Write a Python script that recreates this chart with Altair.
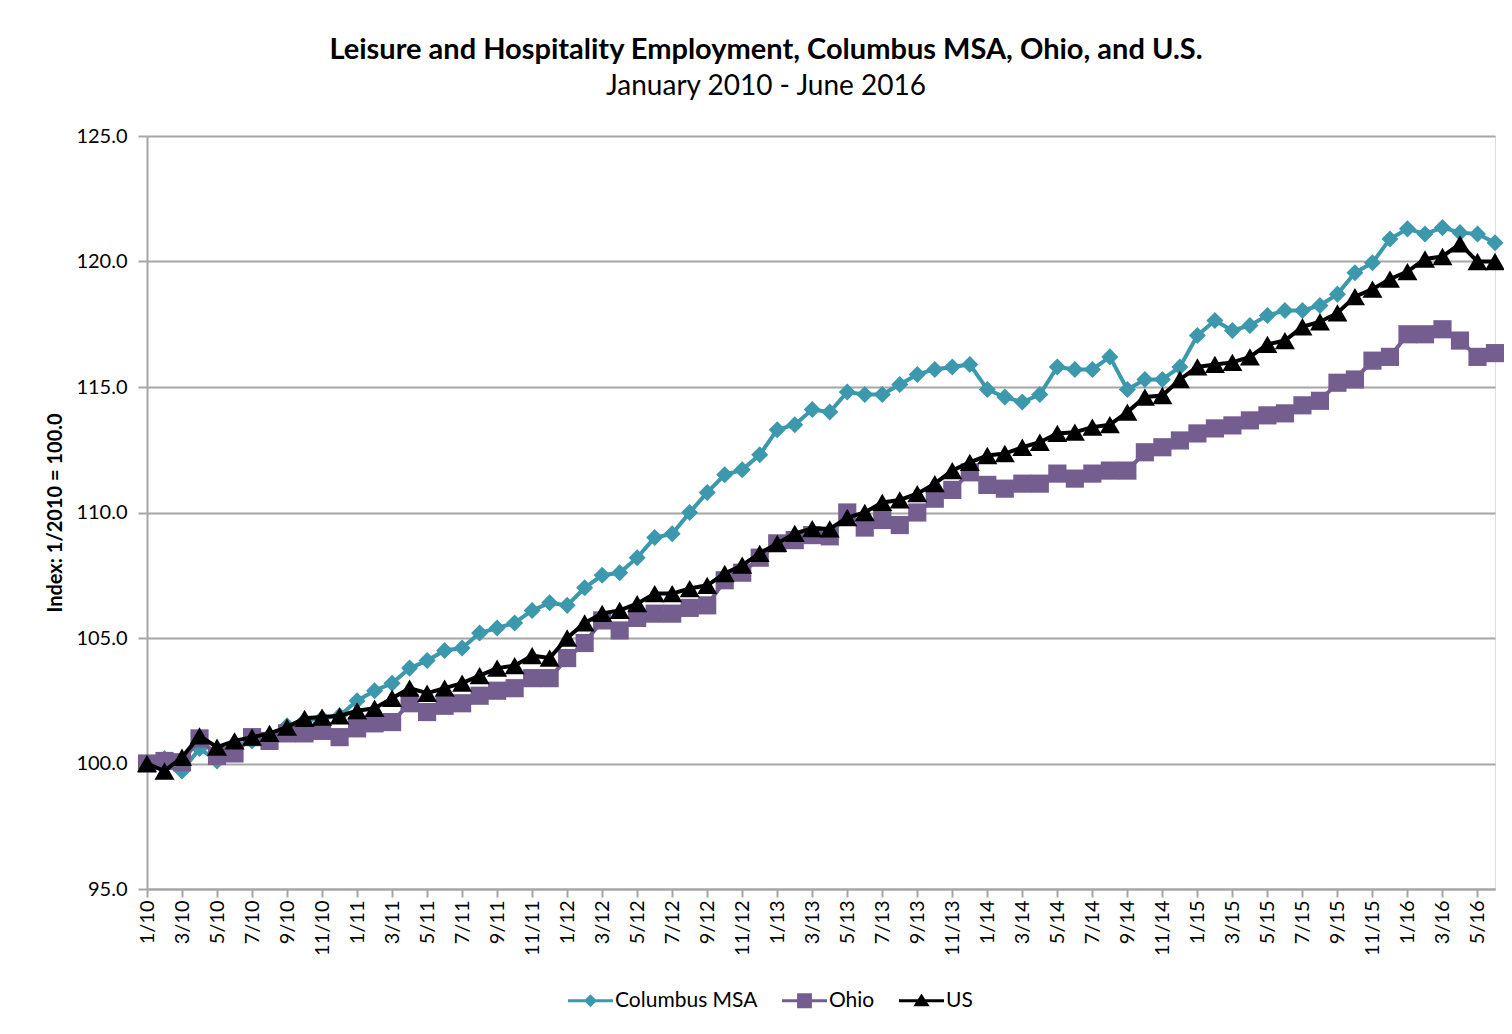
import altair as alt
import pandas as pd

# ---- data -------------------------------------------------------------
years = ["10", "11", "12", "13", "14", "15", "16"]
month_nums = ["1", "2", "3", "4", "5", "6", "7", "8", "9", "10", "11", "12"]
months = [f"{m}/{y}" for y in years for m in month_nums][:78]   # 1/10 .. 6/16

series = ["Columbus MSA", "Ohio", "US"]
colors = ["#3b98ad", "#745e90", "#000000"]

columbus = [
    100.0, 100.2, 99.7, 100.6, 100.1, 100.7, 100.9, 101.1, 101.5, 101.7, 101.8, 101.9,
    102.5, 102.9, 103.2, 103.8, 104.1, 104.5, 104.6, 105.2, 105.4, 105.6, 106.1, 106.4,
    106.3, 107.0, 107.5, 107.6, 108.2, 109.0, 109.15, 110.0, 110.8, 111.5, 111.7, 112.3,
    113.3, 113.5, 114.1, 114.0, 114.8, 114.7, 114.7, 115.1, 115.5, 115.7, 115.8, 115.9,
    114.9, 114.6, 114.4, 114.7, 115.8, 115.7, 115.7, 116.2, 114.9, 115.3, 115.3, 115.8,
    117.05, 117.65, 117.25, 117.45, 117.85, 118.05, 118.05, 118.25, 118.7, 119.55, 119.95, 120.9,
    121.3, 121.1, 121.35, 121.15, 121.1, 120.75,
]
ohio = [
    100.0, 100.1, 100.05, 101.0, 100.3, 100.4, 101.05, 100.9, 101.2, 101.2, 101.3, 101.05,
    101.4, 101.6, 101.65, 102.4, 102.05, 102.3, 102.4, 102.7, 102.9, 103.0, 103.4, 103.4,
    104.2, 104.8, 105.7, 105.3, 105.8, 105.97, 105.97, 106.2, 106.3, 107.3, 107.6, 108.2,
    108.77, 108.9, 109.1, 109.05, 110.0, 109.4, 109.7, 109.5, 110.0, 110.55, 110.9, 111.6,
    111.1, 110.95, 111.15, 111.15, 111.55, 111.35, 111.55, 111.67, 111.67, 112.4, 112.6, 112.87,
    113.15, 113.35, 113.47, 113.67, 113.87, 113.95, 114.27, 114.45, 115.17, 115.3, 116.05, 116.2,
    117.1, 117.1, 117.3, 116.85, 116.2, 116.35,
]
us = [
    100.0, 99.7, 100.25, 101.1, 100.65, 100.9, 101.05, 101.2, 101.45, 101.8, 101.85, 101.9,
    102.1, 102.2, 102.6, 103.0, 102.8, 103.0, 103.2, 103.5, 103.8, 103.9, 104.3, 104.2,
    105.0, 105.6, 105.98, 106.1, 106.37, 106.77, 106.77, 106.97, 107.1, 107.57, 107.9, 108.37,
    108.77, 109.17, 109.36, 109.35, 109.8, 110.0, 110.4, 110.5, 110.75, 111.15, 111.67, 112.0,
    112.27, 112.35, 112.6, 112.8, 113.15, 113.2, 113.4, 113.5, 114.0, 114.6, 114.66, 115.3,
    115.8, 115.9, 115.98, 116.2, 116.7, 116.85, 117.4, 117.6, 117.95, 118.6, 118.9, 119.3,
    119.6, 120.1, 120.2, 120.7, 120.0, 120.0,
]
y_ticks = [95, 100, 105, 110, 115, 120, 125]

# ---- long table -------------------------------------------------------
rows = []
for name, vals in zip(series, [columbus, ohio, us]):
    for m, v in zip(months, vals):
        rows.append({"month": m, "series": name, "value": v})
df = pd.DataFrame(rows)

FONT = "Lato"
GRID = "#a6a6a6"

x_enc = alt.X(
    "month:O",
    sort=months,
    scale=alt.Scale(type="point", padding=0, domain=months),
    axis=alt.Axis(
        values=months[::2], labelAngle=-90, title=None,
        labelFont=FONT, labelFontSize=20, labelColor="#000000", labelPadding=3,
        domainColor=GRID, domainWidth=2, tickColor=GRID, tickWidth=2, tickSize=8,
        grid=False,
    ),
)
y_enc = alt.Y(
    "value:Q",
    scale=alt.Scale(domain=[95, 125], nice=False, zero=False),
    axis=alt.Axis(
        values=y_ticks, format=".1f", title="Index: 1/2010 = 100.0",
        titleFont=FONT, titleFontSize=20, titleFontWeight="bold", titleColor="#000000",
        titlePadding=10,
        labelFont=FONT, labelFontSize=20, labelColor="#000000", labelPadding=11,
        domainColor=GRID, domainWidth=2, tickColor=GRID, tickWidth=2, tickSize=9,
        grid=True, gridColor=GRID, gridWidth=2,
    ),
)

shapes = ["diamond", "square", "triangle-up"]
sizes = [290, 330, 400]
layers = []
for name, col, shp, sz in zip(series, colors, shapes, sizes):
    base = alt.Chart(df).transform_filter(alt.datum.series == name)
    layers.append(base.mark_line(color=col, strokeWidth=4).encode(x=x_enc, y=y_enc))
    layers.append(
        base.mark_point(shape=shp, filled=True, color=col, size=sz, opacity=1).encode(x=x_enc, y=y_enc)
    )

# legend glyphs: line with marker (custom symbol paths)
legend_paths = [
    "M-1,-0.07H-0.22L0,-0.29L0.22,-0.07H1V0.07H0.22L0,0.29L-0.22,0.07H-1Z",
    "M-1,-0.07H-0.33V-0.33H0.33V-0.07H1V0.07H0.33V0.33H-0.33V0.07H-1Z",
    "M-1,-0.07H-0.16L0,-0.32L0.16,-0.07H1V0.07H0.25L0.36,0.24H-0.36L-0.25,0.07H-1Z",
]
leg = alt.Legend(
    title=None, orient="none", legendX=421, legendY=842, direction="horizontal",
    symbolSize=2025, symbolStrokeWidth=0, labelFont=FONT, labelFontSize=21,
    labelColor="#000000", labelOffset=2, columnPadding=24,
)
legend_layer = (
    alt.Chart(df)
    .transform_filter("false")
    .mark_point(filled=True, strokeWidth=0, opacity=1)
    .encode(
        fill=alt.Fill("series:N", scale=alt.Scale(domain=series, range=colors), legend=leg),
        shape=alt.Shape("series:N", scale=alt.Scale(domain=series, range=legend_paths), legend=leg),
    )
)

chart = (
    alt.layer(*layers, legend_layer)
    .properties(
        width=1348,
        height=753,
        autosize="none",
        padding={"left": 139, "top": 128, "right": 9, "bottom": 136},
        title=alt.TitleParams(
            text="Leisure and Hospitality Employment, Columbus MSA, Ohio, and U.S.",
            subtitle="January 2010 - June 2016",
            anchor="middle", dx=-55, offset=25,
            font=FONT, fontSize=29, fontWeight="bold", color="#000000",
            subtitleFont=FONT, subtitleFontSize=28, subtitleColor="#000000",
            subtitlePadding=8,
        ),
    )
    .configure_view(stroke=None)
    .configure(background="white")
)

chart.save("out.html", embed_options={"renderer": "svg", "actions": False})
